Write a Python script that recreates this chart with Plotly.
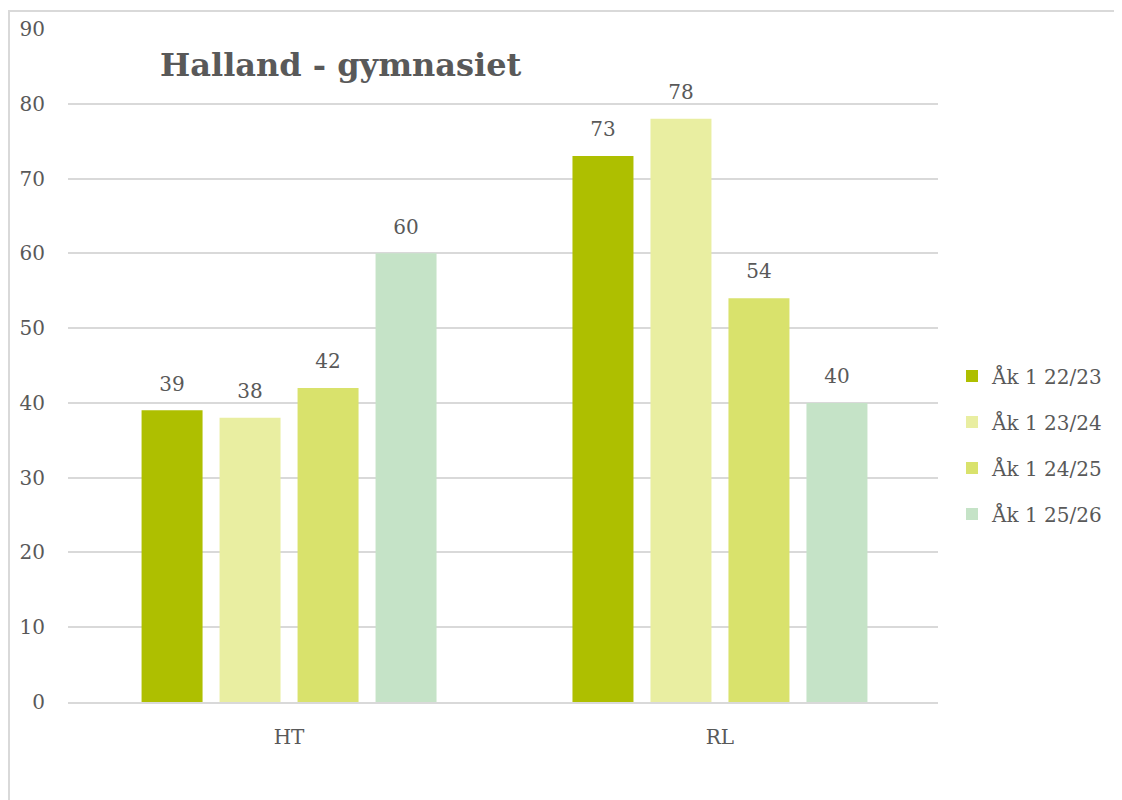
import plotly.graph_objects as go

categories = ["HT", "RL"]
series_names = ["Åk 1 22/23", "Åk 1 23/24", "Åk 1 24/25", "Åk 1 25/26"]
values_2223 = [39, 73]
values_2324 = [38, 78]
values_2425 = [42, 54]
values_2526 = [60, 40]
colors = ["#AEBF00", "#E9EEA1", "#D9E26C", "#C5E3C7"]
y_ticks = [0, 10, 20, 30, 40, 50, 60, 70, 80, 90]

FONT = "DejaVu Serif"
GREY = "#595959"
OFF = 8  # page body margin
W, H = 1122 - OFF, 800 - OFF
PLOT_L, PLOT_R, PLOT_T, PLOT_B = 68, 938, 29, 702  # screen px of plot area
L = PLOT_L - OFF
R = W - (PLOT_R - OFF)
T = PLOT_T - OFF
B = H - (PLOT_B - OFF)
BARGAP = 0.276

fig = go.Figure()
for i, (name, vals, col) in enumerate(zip(series_names, [values_2223, values_2324, values_2425, values_2526], colors)):
    fig.add_trace(go.Bar(
        x=categories, y=vals, name=name, marker_color=col, marker_line_width=0,
        legendgroup=name, offsetgroup=str(i), hoverinfo="skip",
    ))
for i, (name, vals) in enumerate(zip(series_names, [values_2223, values_2324, values_2425, values_2526])):
    fig.add_trace(go.Scatter(
        x=categories, y=vals, mode="markers+text", text=[str(v) for v in vals],
        textposition="top center", marker=dict(size=22, color="rgba(0,0,0,0)"),
        textfont=dict(family=FONT, size=20, color=GREY),
        offsetgroup=str(i), showlegend=False, cliponaxis=False, hoverinfo="skip",
    ))

pw = PLOT_R - PLOT_L
ph = PLOT_B - PLOT_T
def px_x(x):
    return (x - PLOT_L) / pw
def px_y(y):
    return (PLOT_B - y) / ph

fig.update_layout(
    width=W, height=H,
    margin=dict(l=L, r=R, t=T, b=B, autoexpand=False),
    paper_bgcolor="white", plot_bgcolor="white",
    barmode="group", bargap=BARGAP, bargroupgap=0.218,
    scattermode="group", scattergap=BARGAP,
    font=dict(family=FONT, color=GREY, size=20),
    title=dict(text="<b>Halland - gymnasiet</b>", x=(160 - OFF) / W, xanchor="left",
               y=1 - (65 - OFF) / H, yanchor="middle",
               font=dict(family=FONT, size=32, color=GREY)),
    legend=dict(x=px_x(952), xanchor="left", y=px_y(445), yanchor="middle",
                font=dict(family=FONT, size=20, color=GREY),
                traceorder="grouped", tracegroupgap=17, itemwidth=30),
    showlegend=True,
)
fig.update_yaxes(range=[0, 90], tickvals=y_ticks, showgrid=True, gridcolor="#D9D9D9",
                 gridwidth=1.5, zeroline=False, showline=False,
                 ticks="", ticklabelstandoff=22, tickfont=dict(family=FONT, size=20, color=GREY))
fig.update_xaxes(range=[-0.513, 1.506], showline=True, linecolor="#D9D9D9", linewidth=1.5, ticks="",
                 ticklabelstandoff=16, tickfont=dict(family=FONT, size=20, color=GREY))

# chart frame (left and top border)
fig.add_shape(type="line", xref="paper", yref="paper", x0=px_x(9), x1=px_x(9),
              y0=px_y(11), y1=px_y(805), line=dict(color="#D9D9D9", width=2))
fig.add_shape(type="line", xref="paper", yref="paper", x0=px_x(8), x1=px_x(1125),
              y0=px_y(11), y1=px_y(11), line=dict(color="#D9D9D9", width=2))

fig.write_html("out.html")
